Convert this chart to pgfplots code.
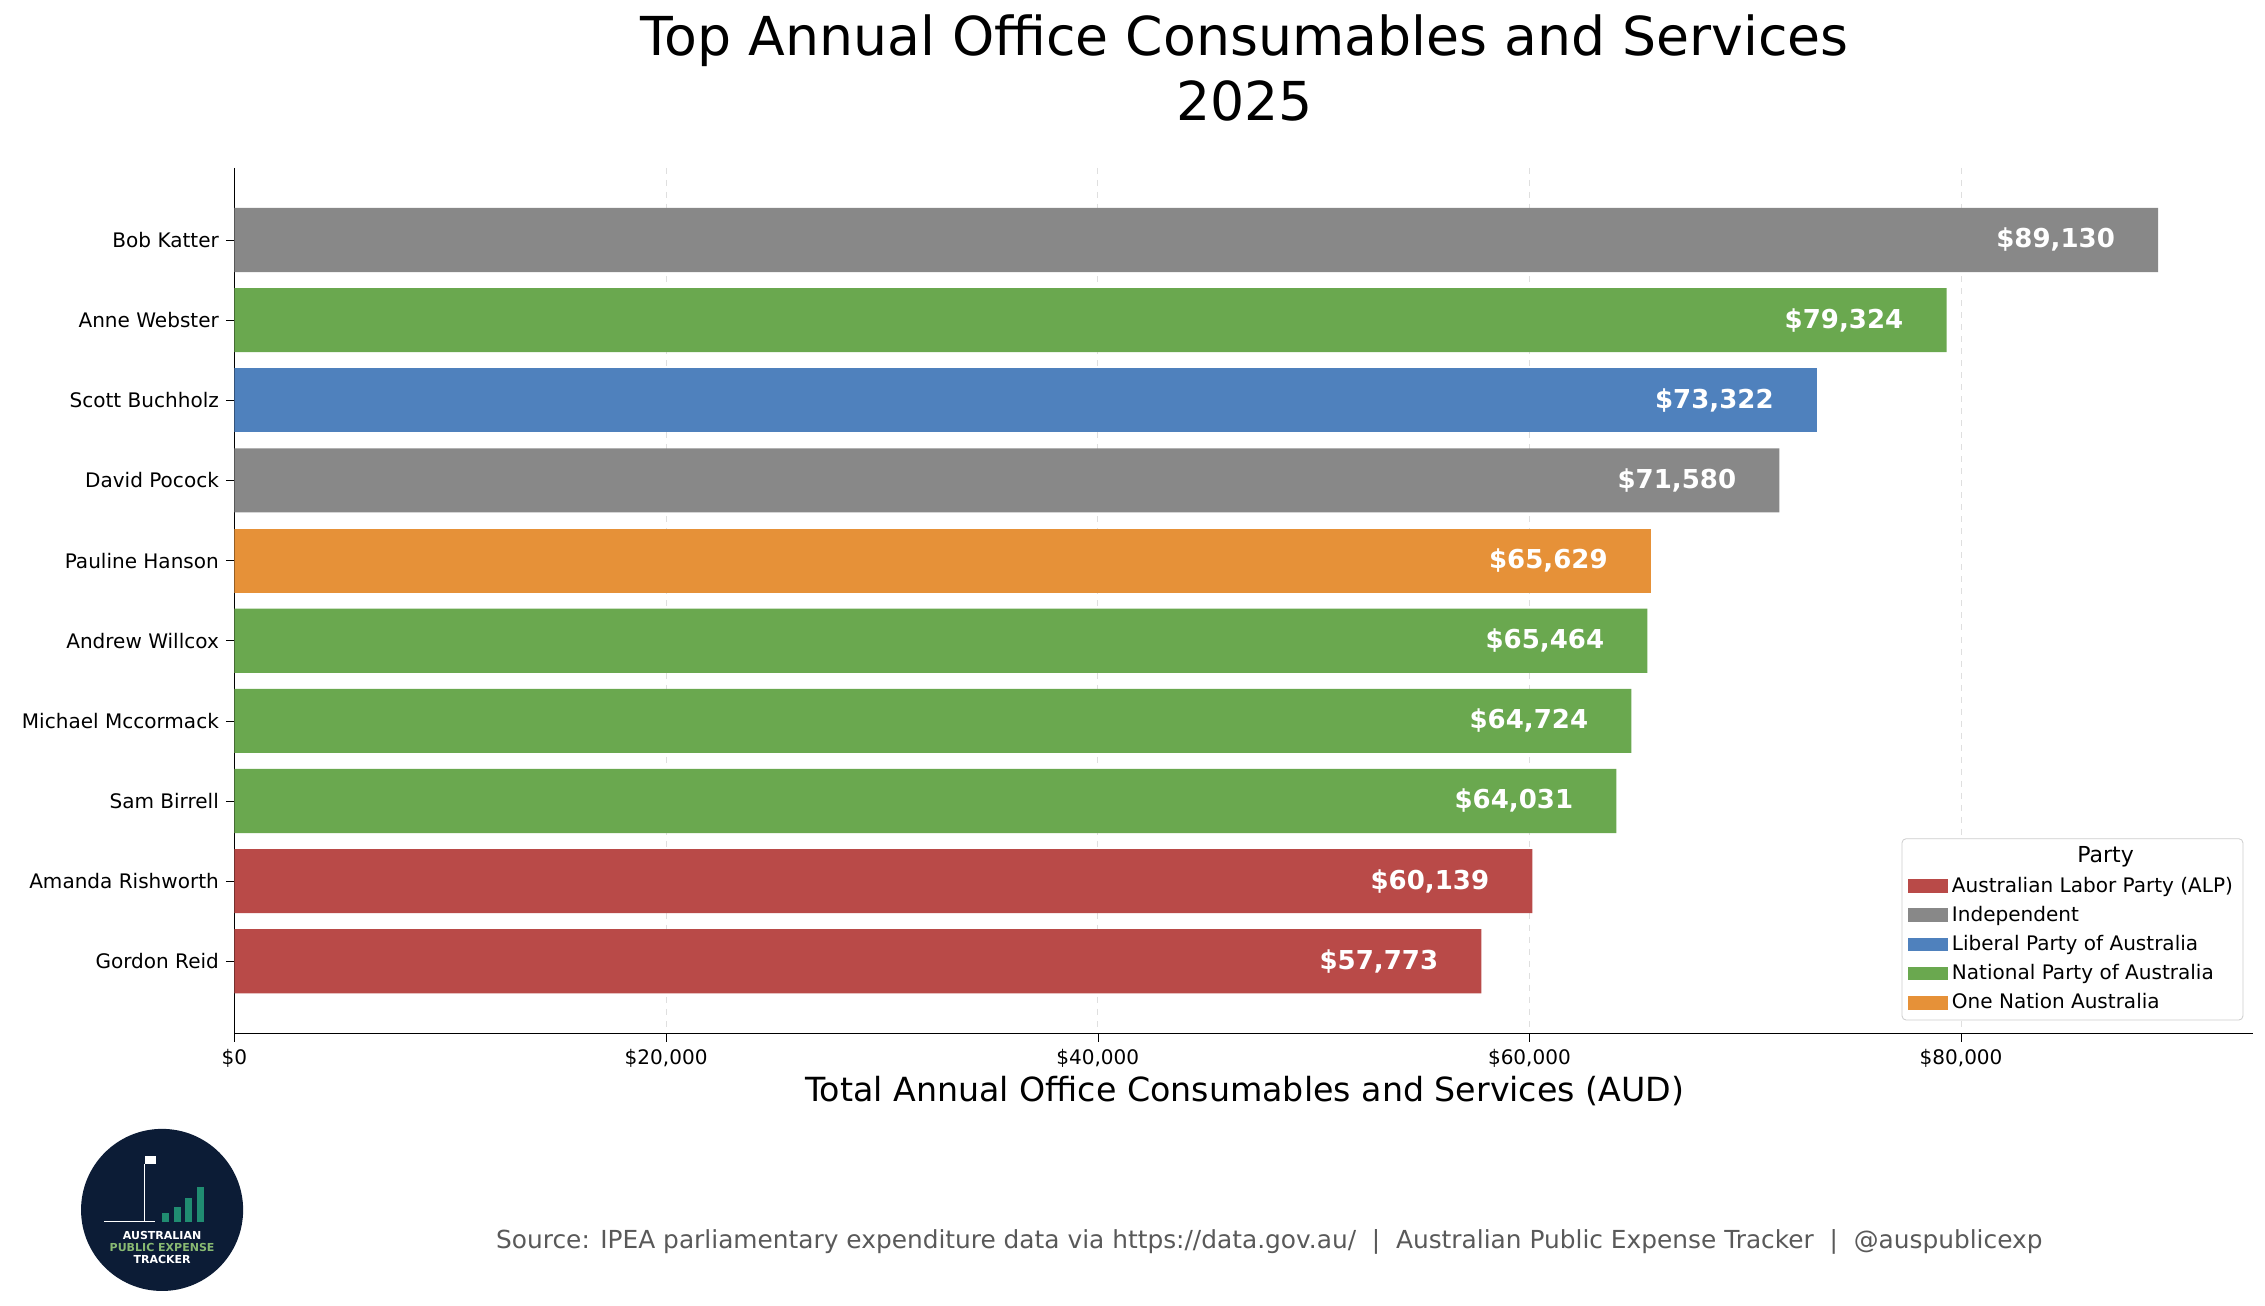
\documentclass[border=0pt]{standalone}
\usepackage{pgfplots}
\pgfplotsset{compat=1.18}
\usepackage{fontspec}
\setmainfont{DejaVu Sans}
\definecolor{alp}{RGB}{185,74,72}
\definecolor{ind}{RGB}{136,136,136}
\definecolor{lib}{RGB}{79,129,189}
\definecolor{nat}{RGB}{106,168,79}
\definecolor{onn}{RGB}{230,145,56}
\definecolor{navy}{RGB}{12,28,54}
\begin{document}
\begin{tikzpicture}
\path (-1.62in,-1.88in) rectangle (14.03in,7.14in);
\begin{axis}[
  at={(0,0)}, anchor=south west,
  scale only axis, width=13.95in, height=5.98in,
  xbar, bar width=0.8, bar shift=0pt,
  xmin=0, xmax=93545, ymin=-0.9, ymax=9.9, y dir=reverse,
  axis x line*=bottom, axis y line*=left, axis line style={-},
  scaled x ticks=false,
  xtick={0,20000,40000,60000,80000},
  xticklabels={{\$0},{\$20,000},{\$40,000},{\$60,000},{\$80,000}},
  ytick={0,...,9},
  yticklabels={Bob Katter,Anne Webster,Scott Buchholz,David Pocock,Pauline Hanson,Andrew Willcox,Michael Mccormack,Sam Birrell,Amanda Rishworth,Gordon Reid},
  ticklabel style={font=\fontsize{10}{12}\selectfont},
  xmajorgrids, major grid style={dashed, gray!25},
  tick align=outside, tick style={black},
  point meta=x,
  nodes near coords={\$\pgfmathprintnumber[fixed,precision=0,1000 sep={,},assume math mode=true]{\pgfplotspointmeta}},
  nodes near coords style={anchor=east, xshift=-0.25in, text=white, font=\fontsize{13}{15}\selectfont\bfseries},
  legend style={at={(rel axis cs:0.995,0.015)}, anchor=south east, draw=gray!40, font=\fontsize{10}{12}\selectfont, row sep=1.5pt, rounded corners=2pt},
  legend cell align=left,
  legend image code/.code={\fill[#1, draw=none, sharp corners] (0cm,-0.12cm) rectangle (0.7cm,0.12cm);},
]
\addlegendimage{empty legend}
\addlegendentry{\hspace{-0.5cm}\fontsize{11}{13}\selectfont\hspace{2.7cm}Party}
\addplot[draw=none, fill=alp] coordinates {(60139,8) (57773,9)};
\addlegendentry{Australian Labor Party (ALP)}
\addplot[draw=none, fill=ind] coordinates {(89130,0) (71580,3)};
\addlegendentry{Independent}
\addplot[draw=none, fill=lib] coordinates {(73322,2)};
\addlegendentry{Liberal Party of Australia}
\addplot[draw=none, fill=nat] coordinates {(79324,1) (65464,5) (64724,6) (64031,7)};
\addlegendentry{National Party of Australia}
\addplot[draw=none, fill=onn] coordinates {(65629,4)};
\addlegendentry{One Nation Australia}
\end{axis}
\node[align=center, font=\fontsize{26.8}{32}\selectfont] at (6.98in,6.67in) {Top Annual Office Consumables and Services\\2025};
\node[font=\fontsize{16.6}{20}\selectfont] at (6.98in,-0.40in) {Total Annual Office Consumables and Services (AUD)};
\node[font=\fontsize{12.4}{15}\selectfont, text=black!65] at (7.15in,-1.44in) {Source: IPEA parliamentary expenditure data via https://data.gov.au/ \ | \ Australian Public Expense Tracker \ | \ @auspublicexp};
\fill[navy] (-0.50in,-1.22in) circle (0.56in);
\node[align=center, text=white, font=\fontsize{5.5}{6}\selectfont\bfseries] at (-0.50in,-1.48in) {AUSTRALIAN\\\textcolor{nat!80!white}{PUBLIC EXPENSE}\\TRACKER};
\foreach \i/\h in {0/0.06,1/0.1,2/0.16,3/0.24}{\fill[teal!70!nat] (-0.5in+\i*0.08in,-1.30in) rectangle ++(0.05in,\h in);}
\draw[white, line width=0.6pt] (-0.9in,-1.30in) -- (-0.55in,-1.30in);
\draw[white, line width=0.5pt] (-0.62in,-1.30in) -- (-0.62in,-0.9in);
\fill[white] (-0.62in,-0.9in) rectangle ++(0.08in,0.05in);
\end{tikzpicture}
\end{document}
